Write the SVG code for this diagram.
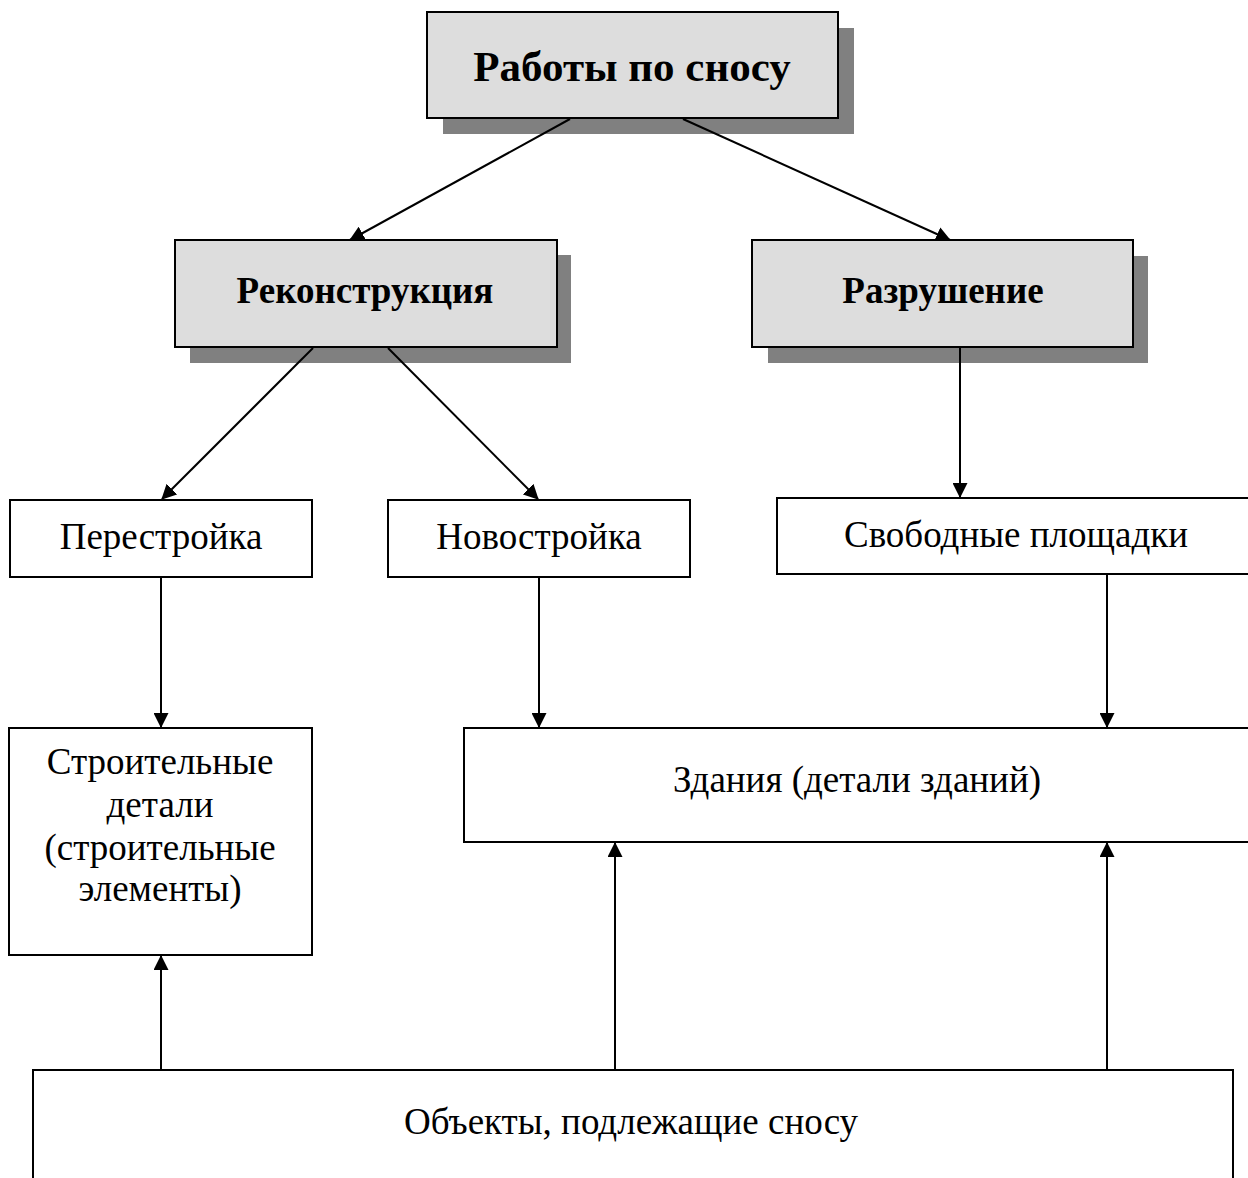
<svg xmlns="http://www.w3.org/2000/svg" width="1248" height="1178" viewBox="0 0 1248 1178">
<defs>
<marker id="ah" markerWidth="15" markerHeight="15" refX="14" refY="7.5" orient="auto" markerUnits="userSpaceOnUse">
<path d="M0,0 L15,7.5 L0,15 z" fill="#000"/>
</marker>
<style>
.shadow{fill:#808080}
.main{fill:#dddddd;stroke:#000;stroke-width:2}
.box{fill:#fff;stroke:#000;stroke-width:2}
.tb{font-family:"Liberation Serif","Times New Roman",serif;font-weight:bold;fill:#000;text-anchor:middle}
.t{font-family:"Liberation Serif","Times New Roman",serif;font-size:37px;fill:#000;text-anchor:middle}
.c{stroke:#000;stroke-width:2;fill:none;marker-end:url(#ah)}
</style>
</defs>
<rect width="1248" height="1178" fill="#fff"/>
<g id="node-raboty">
<rect class="shadow" x="443" y="28" width="411" height="106"/>
<rect class="main" x="427" y="12" width="411" height="106"/>
<text class="tb" x="632" y="81" font-size="43">Работы по сносу</text>
</g>
<g id="node-rekonstrukciya">
<rect class="shadow" x="190" y="255" width="381" height="108"/>
<rect class="main" x="175" y="240" width="382" height="107"/>
<text class="tb" x="365" y="303" font-size="37">Реконструкция</text>
</g>
<g id="node-razrushenie">
<rect class="shadow" x="768" y="256" width="380" height="107"/>
<rect class="main" x="752" y="240" width="381" height="107"/>
<text class="tb" x="943" y="303" font-size="37">Разрушение</text>
</g>
<g id="node-perestroika">
<rect class="box" x="10" y="500" width="302" height="77"/>
<text class="t" x="161" y="549">Перестройка</text>
</g>
<g id="node-novostroika">
<rect class="box" x="388" y="500" width="302" height="77"/>
<text class="t" x="539" y="549">Новостройка</text>
</g>
<g id="node-svobodnye">
<rect class="box" x="777" y="498" width="474" height="76"/>
<text class="t" x="1016" y="547">Свободные площадки</text>
</g>
<g id="node-stroitelnye">
<rect class="box" x="9" y="728" width="303" height="227"/>
<text class="t" x="160" y="774">Строительные</text>
<text class="t" x="160" y="817">детали</text>
<text class="t" x="160" y="860">(строительные</text>
<text class="t" x="160" y="901">элементы)</text>
</g>
<g id="node-zdaniya">
<rect class="box" x="464" y="728" width="787" height="114"/>
<text class="t" x="857" y="792">Здания (детали зданий)</text>
</g>
<g id="node-obekty">
<rect class="box" x="33" y="1070" width="1200" height="120"/>
<text class="t" x="631" y="1134">Объекты, подлежащие сносу</text>
</g>
<g id="connectors">
<line class="c" x1="570" y1="119" x2="350" y2="240"/>
<line class="c" x1="683" y1="119" x2="950" y2="240"/>
<line class="c" x1="313" y1="348" x2="162" y2="499"/>
<line class="c" x1="388" y1="348" x2="538" y2="499"/>
<line class="c" x1="960" y1="348" x2="960" y2="497"/>
<line class="c" x1="161" y1="578" x2="161" y2="727"/>
<line class="c" x1="539" y1="578" x2="539" y2="727"/>
<line class="c" x1="1107" y1="575" x2="1107" y2="727"/>
<line class="c" x1="161" y1="1069" x2="161" y2="956"/>
<line class="c" x1="615" y1="1069" x2="615" y2="843"/>
<line class="c" x1="1107" y1="1069" x2="1107" y2="843"/>
</g>
</svg>
